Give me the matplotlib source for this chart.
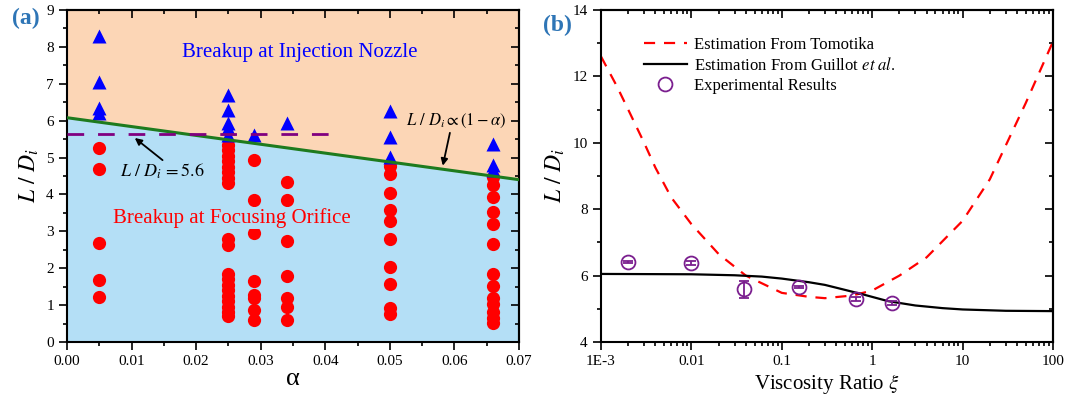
import numpy as np
import matplotlib.pyplot as plt
from matplotlib.lines import Line2D
from matplotlib.ticker import MultipleLocator, LogLocator, FixedFormatter, FixedLocator, NullFormatter

plt.rcParams['font.family'] = ['Liberation Serif', 'DejaVu Serif']
plt.rcParams['mathtext.fontset'] = 'stix'

# ---- panel (a) data ----
tri_a005 = [8.3, 7.05, 6.35, 6.2]
tri_a025 = [6.7, 6.3, 5.95, 5.8, 5.6]
tri_a029 = [5.6]
tri_a034 = [5.93]
tri_a050 = [6.27, 5.56, 5.02]
tri_a066 = [5.38, 4.8, 4.65]

circ_a005 = [5.27, 4.68, 2.68, 1.68, 1.23]
circ_a025 = [5.35, 5.2, 5.05, 4.9, 4.75, 4.6, 4.45, 4.3, 2.78, 2.63,
             1.85, 1.7, 1.55, 1.4, 1.25, 1.1, 0.95, 0.8, 0.7]
circ_a029 = [4.93, 3.85, 2.95, 1.66, 1.28, 1.18, 0.87, 0.6]
circ_a034 = [4.33, 3.85, 2.73, 1.8, 1.2, 0.94, 0.6]
circ_a050 = [4.78, 4.55, 4.03, 3.58, 3.27, 2.78, 2.03, 1.57, 0.91, 0.75]
circ_a066 = [4.48, 4.25, 3.94, 3.53, 3.2, 2.67, 1.84, 1.53, 1.2, 1.02, 0.82, 0.64, 0.52]

tri_cols = {0.005: tri_a005, 0.025: tri_a025, 0.029: tri_a029,
            0.034: tri_a034, 0.050: tri_a050, 0.066: tri_a066}
circ_cols = {0.005: circ_a005, 0.025: circ_a025, 0.029: circ_a029,
             0.034: circ_a034, 0.050: circ_a050, 0.066: circ_a066}

green_alpha = [0.0, 0.07]
green_ld = [6.08, 4.40]
crit_alpha = [0.0, 0.042]
crit_ld = [5.64, 5.64]

# ---- panel (b) data ----
tomo_xi = [0.001, 0.0015, 0.002, 0.003, 0.004, 0.006, 0.01, 0.02, 0.04, 0.1, 0.2,
           0.3, 0.6, 1.0, 2.0, 4.0, 10, 20, 50, 100]
tomo_ld = [12.6, 11.7, 11.0, 10.0, 9.25, 8.35, 7.55, 6.65, 6.0, 5.48, 5.36,
           5.32, 5.4, 5.55, 6.0, 6.55, 7.65, 8.9, 11.2, 13.05]
guil_xi = [0.001, 0.01, 0.03, 0.06, 0.1, 0.2, 0.3, 0.5, 0.8, 1.5, 3, 6, 10, 30, 100]
guil_ld = [6.05, 6.04, 6.01, 5.97, 5.91, 5.8, 5.72, 5.57, 5.43, 5.23, 5.1,
           5.02, 4.98, 4.94, 4.93]
exp_xi = [0.002, 0.01, 0.0385, 0.155, 0.66, 1.67]
exp_ld = [6.42, 6.37, 5.59, 5.65, 5.3, 5.17]
exp_err = [0.03, 0.06, 0.25, 0.03, 0.07, 0.05]

peach = '#FCD6B6'
lightblue = '#B4DFF6'
panel_col = '#2E75B6'
purple = '#7B1F8F'

fig = plt.figure(figsize=(10.75, 4.04), dpi=100)
W, H = 1075, 404
ax1 = fig.add_axes([67 / W, 62 / H, 452 / W, 332 / H])
ax2 = fig.add_axes([601 / W, 62 / H, 452 / W, 332 / H])


def mirror_ticks(ax, log=False):
    top = ax.secondary_xaxis('top')
    right = ax.secondary_yaxis('right')
    if log:
        top.set_xscale('log')
    top.tick_params(which='both', direction='in', labeltop=False, width=1.2)
    right.tick_params(which='both', direction='in', labelright=False, width=1.2)
    top.tick_params(which='major', length=6)
    top.tick_params(which='minor', length=3)
    right.tick_params(which='major', length=6)
    right.tick_params(which='minor', length=3)
    for s in top.spines.values():
        s.set_linewidth(1.5)
    for s in right.spines.values():
        s.set_linewidth(1.5)
    return top, right


# ---------- (a) ----------
ax1.fill_between(green_alpha, green_ld, 9, color=peach, lw=0, zorder=0)
ax1.fill_between(green_alpha, 0, green_ld, color=lightblue, lw=0, zorder=0)
for a, vals in circ_cols.items():
    ax1.plot([a] * len(vals), vals, 'o', color='#FF0000', ms=9.5, mec='none', zorder=2)
for a, vals in tri_cols.items():
    ax1.plot([a] * len(vals), vals, '^', color='#0000FF', ms=10.5, mec='none', zorder=2)
ax1.plot(green_alpha, green_ld, color='#1E7B1E', lw=2.2, zorder=4)
ax1.plot(crit_alpha, crit_ld, color='#800080', lw=2, dashes=(6, 5), zorder=4)

ax1.text(0.036, 7.86, 'Breakup at Injection Nozzle', color='#0000FF', fontsize=15,
         ha='center', va='center', zorder=5)
ax1.text(0.0255, 3.36, 'Breakup at Focusing Orifice', color='#FF0000', fontsize=15,
         ha='center', va='center', zorder=5,
         bbox=dict(facecolor=lightblue, edgecolor='none', pad=1))

ax1.text(0.0147, 4.62, r'$L\ /\ D_i\, = 5.6$', fontsize=13, ha='center', va='center',
         zorder=6)
ax1.annotate('', xy=(0.0105, 5.53), xytext=(0.0148, 4.93), zorder=6,
             arrowprops=dict(arrowstyle='-|>', color='black', lw=1.3,
                             mutation_scale=10, shrinkA=0, shrinkB=0))
ax1.text(0.0603, 6.0, r'$L\ /\ D_i \propto (1-\alpha)$', fontsize=12, ha='center',
         va='center', zorder=6)
ax1.annotate('', xy=(0.0582, 4.78), xytext=(0.0593, 5.67), zorder=6,
             arrowprops=dict(arrowstyle='-|>', color='black', lw=1.3,
                             mutation_scale=10, shrinkA=0, shrinkB=0))

ax1.set_xlim(0, 0.07)
ax1.set_ylim(0, 9)
ax1.xaxis.set_major_locator(MultipleLocator(0.01))
ax1.xaxis.set_minor_locator(MultipleLocator(0.005))
ax1.yaxis.set_major_locator(MultipleLocator(1))
ax1.yaxis.set_minor_locator(MultipleLocator(0.5))
ax1.xaxis.set_major_formatter(plt.FuncFormatter(lambda v, p: f'{v:.2f}'))
ax1.set_xlabel('α', fontsize=19, labelpad=0)
ax1.set_ylabel(r'$L\ /\ D_i$', fontsize=17, labelpad=4)
t1, r1 = mirror_ticks(ax1)
t1.xaxis.set_major_locator(MultipleLocator(0.01))
t1.xaxis.set_minor_locator(MultipleLocator(0.005))
r1.yaxis.set_major_locator(MultipleLocator(1))
r1.yaxis.set_minor_locator(MultipleLocator(0.5))

# ---------- (b) ----------
ax2.plot(tomo_xi, tomo_ld, color='#FF0000', lw=1.6, dashes=(5, 4))
ax2.plot(guil_xi, guil_ld, color='black', lw=1.6)
ax2.errorbar(exp_xi, exp_ld, yerr=exp_err, fmt='o', ms=10, mfc='none', mec=purple,
             ecolor=purple, mew=1.3, elinewidth=1.3, capsize=3.5, capthick=1.3)
ax2.set_xscale('log')
ax2.set_xlim(1e-3, 100)
ax2.set_ylim(4, 14)
ax2.xaxis.set_major_locator(FixedLocator([1e-3, 1e-2, 1e-1, 1, 10, 100]))
ax2.xaxis.set_major_formatter(FixedFormatter(['1E-3', '0.01', '0.1', '1', '10', '100']))
ax2.xaxis.set_minor_locator(LogLocator(base=10, subs=np.arange(2, 10), numticks=20))
ax2.xaxis.set_minor_formatter(NullFormatter())
ax2.yaxis.set_major_locator(MultipleLocator(2))
ax2.yaxis.set_minor_locator(MultipleLocator(1))
ax2.set_xlabel(r'Viscosity Ratio $\xi$', fontsize=15, labelpad=3)
ax2.set_ylabel(r'$L\ /\ D_i$', fontsize=17, labelpad=4)
t2, r2 = mirror_ticks(ax2, log=True)
t2.xaxis.set_minor_locator(LogLocator(base=10, subs=np.arange(2, 10), numticks=20))
t2.xaxis.set_minor_formatter(NullFormatter())
r2.yaxis.set_major_locator(MultipleLocator(2))
r2.yaxis.set_minor_locator(MultipleLocator(1))

handles = [
    Line2D([], [], color='#FF0000', lw=1.6, dashes=(5, 4)),
    Line2D([], [], color='black', lw=1.6),
    Line2D([], [], ls='none', marker='o', ms=10, mfc='none', mec=purple, mew=1.3),
]
labels = ['Estimation From Tomotika', r'Estimation From Guillot $et\ al.$',
          'Experimental Results']
ax2.legend(handles, labels, loc='upper left', bbox_to_anchor=(0.08, 0.94), frameon=False,
           fontsize=12, handlelength=2.6, handletextpad=0.4, labelspacing=0.25,
           borderaxespad=0)

for ax in (ax1, ax2):
    ax.tick_params(which='both', direction='out', labelsize=11, width=1.2)
    ax.tick_params(which='major', length=6)
    ax.tick_params(which='minor', length=3)
    for s in ax.spines.values():
        s.set_linewidth(1.5)

fig.text(26 / W, 1 - 18 / H, '(a)', color=panel_col, fontsize=17, fontweight='bold',
         ha='center', va='center')
fig.text(557 / W, 1 - 25 / H, '(b)', color=panel_col, fontsize=17, fontweight='bold',
         ha='center', va='center')

fig.savefig('out.png', dpi=100)
